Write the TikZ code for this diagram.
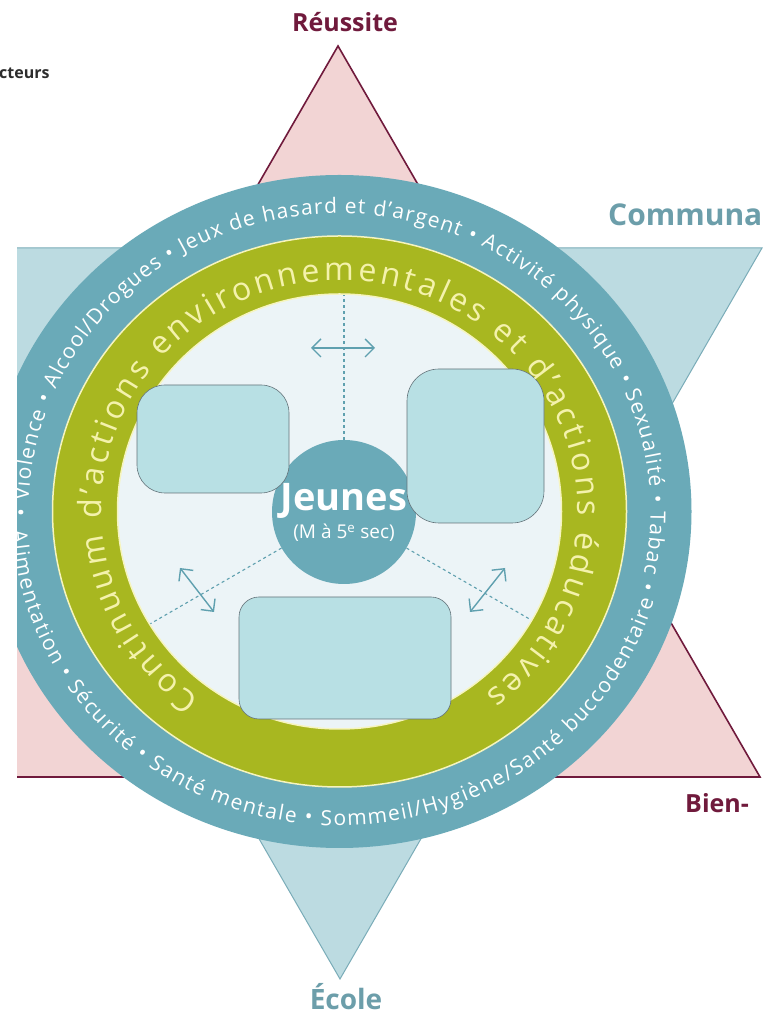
\documentclass[tikz,border=0pt]{standalone}
\usepackage{fontspec}
\setmainfont{Open Sans}
\newfontfamily\osr{Open Sans}
\usetikzlibrary{decorations.text,arrows.meta,calc}
\definecolor{pinkfill}{RGB}{242,212,212}
\definecolor{maroonc}{RGB}{112,26,60}
\definecolor{tealfill}{RGB}{188,219,225}
\definecolor{tealedge}{RGB}{122,172,184}
\definecolor{ringteal}{RGB}{106,170,184}
\definecolor{ringgreen}{RGB}{168,183,32}
\definecolor{creamc}{RGB}{246,244,190}
\definecolor{greentext}{RGB}{244,242,172}
\definecolor{innerbg}{RGB}{236,244,247}
\definecolor{boxfill}{RGB}{184,224,228}
\definecolor{boxedge}{RGB}{100,115,122}
\definecolor{dashc}{RGB}{95,160,175}
\definecolor{labteal}{RGB}{108,158,170}
\definecolor{darktext}{RGB}{45,45,45}
\begin{document}
\begin{tikzpicture}[x=1pt,y=1pt,
  cbox/.style={draw=boxedge, fill=boxfill, line width=0.6pt, rounded corners=#1, inner sep=0pt},
  dashline/.style={draw=dashc, line width=1.1pt, dash pattern=on 3pt off 3pt},
  dblarrow/.style={draw=dashc, line width=1.4pt, {Straight Barb[length=9pt,width=18pt]}-{Straight Barb[length=9pt,width=18pt]}},
  redlabel/.style={text=maroonc, font=\bfseries\fontsize{#1}{#1}\selectfont, inner sep=0pt},
  teallabel/.style={text=labteal, font=\bfseries\fontsize{#1}{#1}\selectfont, inner sep=0pt}]
\useasboundingbox (0,0) rectangle (769,1017);
\fill[white] (0,0) rectangle (769,1017);
\coordinate (C) at (339.5,505.5);
\begin{scope}
  \clip (17,0) rectangle (769,1017);
  % star
  \draw[fill=tealfill, draw=tealedge, line width=1pt, line join=miter] (-82,769) -- (762,769) -- (340,38) -- cycle;
  \draw[fill=pinkfill, draw=maroonc, line width=1.6pt, line join=miter] (338,971) -- (760,240) -- (-84,240) -- cycle;
  % rings
  \fill[ringteal] (C) ellipse [x radius=352, y radius=336.5];
  \draw[fill=ringgreen, draw=creamc, line width=1.5pt] (C) ellipse [x radius=287, y radius=275.5];
  \draw[fill=innerbg, draw=creamc, line width=1.5pt] (C) ellipse [x radius=222, y radius=217.5];
\end{scope}
% centre node
\node[circle, fill=ringteal, minimum size=144pt, inner sep=0pt] (jeunes) at (344,505) {};
\coordinate (dtop) at (344,740);
\coordinate (dleft) at (110,370);
\coordinate (dright) at (578,370);
\begin{scope}
  \clip (C) ellipse [x radius=221, y radius=216.5];
  \draw[dashline] (jeunes.north) -- (dtop);
  \draw[dashline] (jeunes.210) -- (dleft);
  \draw[dashline] (jeunes.330) -- (dright);
\end{scope}
% arrows
\coordinate (a1) at (311,669); \coordinate (a2) at (375,669);
\coordinate (b1) at (180,449); \coordinate (b2) at (214,405);
\coordinate (c1) at (505,449); \coordinate (c2) at (470,405);
\draw[dblarrow] (a1) -- (a2);
\draw[dblarrow] (b1) -- (b2);
\draw[dblarrow] (c1) -- (c2);
% centre text
\node[text=white, font=\bfseries\fontsize{38}{38}\selectfont, inner sep=0pt] (jt) at (344,516) {Jeunes};
\node[text=white, font=\fontsize{19}{19}\selectfont, inner sep=0pt] (js) at (344,484) {(M à 5\textsuperscript{e} sec)};
% boxes
\node[cbox=28pt, minimum width=152pt, minimum height=108pt] (box1) at (213,578) {};
\node[cbox=32pt, minimum width=137pt, minimum height=154pt] (box2) at (475.5,571) {};
\node[cbox=20pt, minimum width=212pt, minimum height=122pt] (box3) at (345,359) {};
% ring texts
\path[decorate, decoration={text along path, text align={fit to path},
  text={|\osr\fontsize{21}{21}\selectfont\color{white}|• Violence • Alcool/Drogues • Jeux de hasard et d’argent • Activité physique • Sexualité • Tabac •}}]
  ($(C)+(181:311 and 298)$) arc [start angle=181, end angle=-15, x radius=311, y radius=298];
\path[decorate, decoration={text along path, text align={fit to path},
  text={|\osr\fontsize{21}{21}\selectfont\color{white}|Alimentation • Sécurité • Santé mentale • Sommeil/Hygiène/Santé buccodentaire}}]
  ($(C)+(183.5:328 and 314)$) arc [start angle=183.5, end angle=343.5, x radius=328, y radius=314];
\path[decorate, decoration={text along path, text align={fit to path},
  text={|\osr\fontsize{32}{32}\selectfont\color{greentext}|Continuum d’actions environnementales et d’actions éducatives}}]
  ($(C)+(234:238 and 231)$) arc [start angle=234, end angle=-52, x radius=238, y radius=231];
% labels
\node[redlabel=25, anchor=base] (reussite) at (345,985) {Réussite};
\node[teallabel=30, anchor=base west] (communa) at (608,791) {Communa};
\node[redlabel=25, anchor=base west] (bien) at (685,204) {Bien-};
\node[teallabel=28, anchor=base] (ecole) at (346,8) {École};
\node[text=darktext, font=\bfseries\fontsize{16}{16}\selectfont, inner sep=0pt, anchor=base west] (cteurs) at (-1,938) {cteurs};
\end{tikzpicture}
\end{document}
